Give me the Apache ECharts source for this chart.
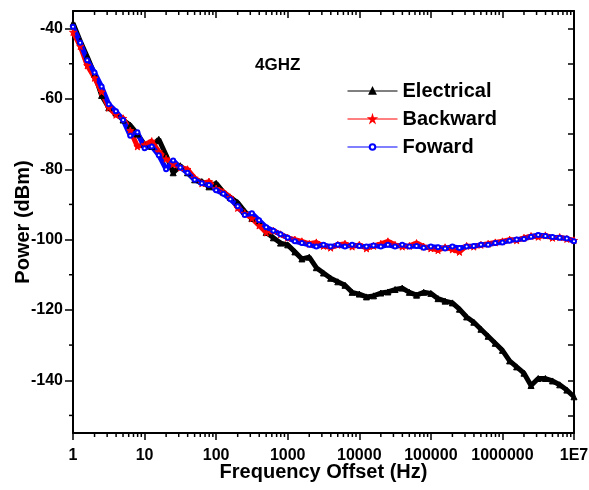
<!DOCTYPE html>
<html>
<head>
<meta charset="utf-8">
<script src="https://cdn.jsdelivr.net/npm/echarts@6/dist/echarts.min.js"></script>
<style>html,body{margin:0;padding:0;background:#fff}#c{width:589px;height:490px}</style>
</head>
<body>
<div id="c"></div>
<script>
const freqs = [
  1,1.26,1.58,2,2.51,3.16,3.98,5.01,6.31,7.94,
  10,12.6,15.8,20,25.1,31.6,39.8,50.1,63.1,79.4,
  100,126,158,200,251,316,398,501,631,794,
  1000,1260,1580,2000,2510,3160,3980,5010,6310,7940,
  10000,12600,15800,20000,25100,31600,39800,50100,63100,79400,
  100000,126000,158000,200000,251000,316000,398000,501000,631000,794000,
  1000000,1260000,1580000,2000000,2510000,3160000,3980000,5010000,6310000,7940000,
  10000000
];
const electrical = [
  -38.5,-43.5,-48,-53,-59,-62.5,-64,-66,-67.5,-70,
  -73,-73.5,-71.5,-76,-81,-79,-81,-83,-83.5,-85,
  -84,-86.5,-88,-89.5,-92,-94,-95,-98,-99.5,-101,
  -101.5,-103.5,-105.5,-105,-108,-109.5,-111,-112,-113,-115,
  -115.5,-116.3,-116,-115.2,-114.9,-114.2,-113.8,-115,-115.8,-115,
  -115.3,-116.8,-117.5,-118,-119.8,-122,-123.5,-125.5,-127.5,-129.5,
  -131.5,-134.5,-136.2,-138,-141.5,-139.5,-139.5,-140.2,-141.3,-142.8,
  -144.7
];
const backward = [
  -41,-45,-50.5,-54,-58,-62.5,-64.5,-65.5,-69,-73.5,
  -73,-72,-75,-77,-78.5,-79.5,-80,-82.5,-84,-83.5,
  -85.5,-86.5,-88,-91,-92.5,-94,-96,-98,-97.5,-98.5,
  -99.5,-100,-100.5,-101.2,-100.8,-101.8,-102.3,-101.5,-101.2,-102,
  -101.5,-102.5,-101.8,-101.2,-100.5,-101.5,-102,-101.8,-101,-102,
  -102.5,-103,-102.2,-102.8,-103.5,-101.8,-102,-101.5,-101.2,-100.8,
  -100.5,-100,-100.2,-99.5,-99,-99.2,-98.8,-99.5,-99.3,-99.8,
  -100.2
];
const foward = [
  -39.5,-44,-49,-52.5,-56.5,-61.5,-63.5,-66,-70.5,-69.5,
  -74,-73.5,-76,-80,-77.5,-79.5,-81,-83,-84,-84.5,
  -86,-87,-88.5,-90.5,-93,-92.5,-94.5,-96.5,-97.5,-98.5,
  -99.5,-100.5,-101,-101.5,-102,-101.5,-102,-101.5,-102,-101.5,
  -101.8,-102,-101.7,-102,-101.5,-102,-101.5,-102,-101.8,-102.3,
  -102,-102.2,-102.5,-102,-102.4,-102,-101.8,-101.5,-101.5,-101,
  -100.8,-100.3,-100,-99.8,-99.2,-98.7,-99,-99.3,-99.5,-99.7,
  -100.5
];
const seriesNames = ['Electrical','Backward','Foward'];
const xTickValues = [1,10,100,1000,10000,100000,1000000,10000000];
const xTickLabels = ['1','10','100','1000','10000','100000','1000000','1E7'];
const yTickValues = [-140,-120,-100,-80,-60,-40];
const yMinorValues = [-150,-130,-110,-90,-70,-50];
const yAllValues = [-150,-140,-130,-120,-110,-100,-90,-80,-70,-60,-50,-40];
const xMinorValues = [];
for (let d = 1; d < 1e7; d *= 10) { for (let k = 2; k <= 9; k++) xMinorValues.push(d * k); }
const chartTitle = '4GHZ';
const xName = 'Frequency Offset (Hz)';
const yName = 'Power (dBm)';

const FONT = '"Liberation Sans", Arial, sans-serif';
const X_MIN = 1, X_MAX = 1e7, Y_MIN = -155, Y_MAX = -35;
const starPath = 'path://M50,0 L61,35 L98,35 L68,57 L79,91 L50,70 L21,91 L32,57 L2,35 L39,35 Z';

function pairs(vals) { return freqs.map((f, i) => [f, vals[i]]); }

const chart = echarts.init(document.getElementById('c'), null, {renderer: 'canvas'});

function tickSeries(values, mode) {
  return {
    type: 'custom', silent: true, clip: false, z: 10, xAxisIndex: 0, yAxisIndex: 0,
    data: values.map(v => mode === 'left' ? [X_MIN, v] : [v, mode === 'top' ? Y_MAX : Y_MIN]),
    renderItem: function (params, api) {
      const p = api.coord([api.value(0), api.value(1)]);
      let shape;
      if (mode === 'left') shape = {x1: p[0] - 4, y1: p[1], x2: p[0], y2: p[1]};
      else shape = {x1: p[0], y1: p[1], x2: p[0], y2: p[1] + 4};
      return {type: 'line', shape: shape, style: {stroke: '#000', lineWidth: 1.5}};
    }
  };
}

const lineSeries = (name, vals, color, symbol, size) => ({
  name: name, type: 'line', data: pairs(vals), xAxisIndex: 0, yAxisIndex: 0,
  symbol: symbol, symbolSize: size, showSymbol: true, showAllSymbol: true,
  lineStyle: {color: color, width: 5}, itemStyle: {color: color, borderColor: color, borderWidth: 1},
  emphasis: {disabled: true}, animation: false
});

chart.setOption({
  animation: false,
  backgroundColor: '#fff',
  grid: {left: 73, right: 15, top: 11, bottom: 57, containLabel: false, outerBoundsMode: 'none'},
  graphic: [{
    type: 'text', left: 255, top: 57,
    style: {text: chartTitle, font: 'bold 17px ' + FONT, fill: '#000'}
  }],
  legend: {
    orient: 'vertical', left: 342, top: 76, itemWidth: 50, itemHeight: 7, itemGap: 8,
    textStyle: {fontSize: 20, fontWeight: 'bold', fontFamily: FONT, color: '#000'},
    data: [
      {name: seriesNames[0], lineStyle: {width: 1}},
      {name: seriesNames[1], lineStyle: {width: 1}},
      {name: seriesNames[2], lineStyle: {width: 1}}
    ]
  },
  xAxis: [{
    type: 'log', min: X_MIN, max: X_MAX, position: 'bottom',
    name: xName, nameLocation: 'middle', nameGap: 29, nameMoveOverlap: false,
    nameTextStyle: {fontSize: 20, fontWeight: 'bold', fontFamily: FONT, color: '#000'},
    axisLine: {show: true, lineStyle: {color: '#000', width: 2}},
    axisTick: {show: true, inside: false, length: 7, customValues: xTickValues, lineStyle: {color: '#000', width: 1.5}},
    axisLabel: {show: true, customValues: xTickValues, margin: 15, fontSize: 16, fontWeight: 'bold', fontFamily: FONT, color: '#000',
      formatter: v => { const i = xTickValues.findIndex(t => Math.abs(Math.log10(t) - Math.log10(v)) < 1e-6); return i >= 0 ? xTickLabels[i] : ''; }},
    splitLine: {show: false}, minorTick: {show: false}
  }, {
    type: 'log', min: X_MIN, max: X_MAX, position: 'top',
    axisLine: {show: true, lineStyle: {color: '#000', width: 2}},
    axisTick: {show: true, inside: true, length: 7, customValues: xTickValues, lineStyle: {color: '#000', width: 1.5}},
    axisLabel: {show: false}, splitLine: {show: false}
  }],
  yAxis: [{
    type: 'value', min: Y_MIN, max: Y_MAX, position: 'left',
    name: yName, nameLocation: 'middle', nameGap: 40, nameMoveOverlap: false,
    nameTextStyle: {fontSize: 20, fontWeight: 'bold', fontFamily: FONT, color: '#000'},
    axisLine: {show: true, lineStyle: {color: '#000', width: 2}},
    axisTick: {show: true, inside: false, length: 8, customValues: yTickValues, lineStyle: {color: '#000', width: 1.5}},
    axisLabel: {show: true, customValues: yTickValues, margin: 10, fontSize: 16, fontWeight: 'bold', fontFamily: FONT, color: '#000'},
    splitLine: {show: false}
  }, {
    type: 'value', min: Y_MIN, max: Y_MAX, position: 'right',
    axisLine: {show: true, lineStyle: {color: '#000', width: 2}},
    axisTick: {show: true, inside: true, length: 6, customValues: yAllValues, lineStyle: {color: '#000', width: 1.5}},
    axisLabel: {show: false}, splitLine: {show: false}
  }],
  series: [
    lineSeries(seriesNames[0], electrical, '#000000', 'triangle', 6),
    lineSeries(seriesNames[1], backward, '#ff0000', starPath, 7),
    lineSeries(seriesNames[2], foward, '#0000ff', 'emptyCircle', 4),
    tickSeries(xMinorValues, 'bottom'),
    tickSeries(xMinorValues, 'top'),
    tickSeries(yMinorValues, 'left')
  ]
});
</script>
</body>
</html>
